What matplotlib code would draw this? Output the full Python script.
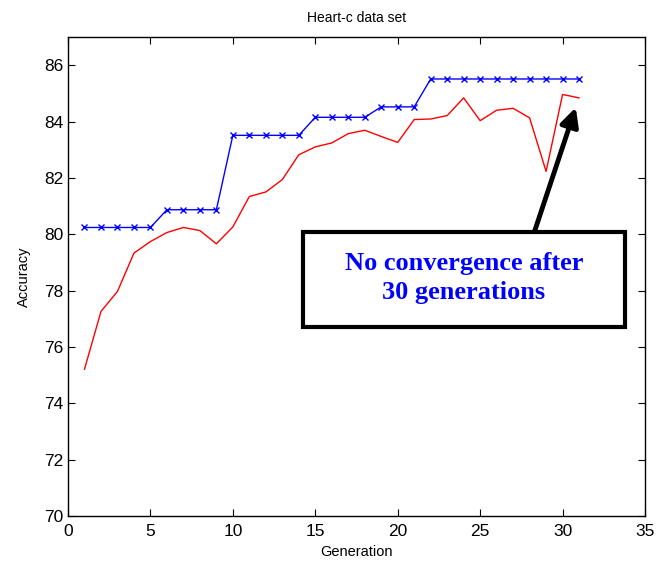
import numpy as np
import matplotlib.pyplot as plt

plt.rcParams['font.family'] = ['Liberation Sans', 'DejaVu Sans']

generations = np.arange(1, 32)

# best-so-far accuracy (blue, stepped)
best_acc = [80.24, 80.24, 80.24, 80.24, 80.24,
            80.87, 80.87, 80.87, 80.87,
            83.51, 83.51, 83.51, 83.51, 83.51,
            84.15, 84.15, 84.15, 84.15,
            84.52, 84.52, 84.52,
            85.51, 85.51, 85.51, 85.51, 85.51, 85.51, 85.51, 85.51, 85.51, 85.51]

# mean accuracy (red)
mean_acc = [75.21, 77.26, 77.97, 79.33, 79.74, 80.06, 80.24, 80.13, 79.66, 80.26,
            81.34, 81.50, 81.94, 82.82, 83.10, 83.24, 83.57, 83.69, 83.47, 83.26,
            84.07, 84.09, 84.21, 84.84, 84.03, 84.40, 84.47, 84.13, 82.23, 84.96,
            84.84]

fig = plt.figure(figsize=(6.7, 5.68), dpi=100)
ax = fig.add_axes([68 / 670, 1 - 516 / 568, (645 - 68) / 670, (516 - 37) / 568])

ax.plot(generations, mean_acc, color='#ff0000', linewidth=1.0)
ax.plot(generations, best_acc, color='#0000ff', linewidth=1.0,
        marker='x', markersize=5, markeredgewidth=1.0)

ax.set_xlim(0, 35)
ax.set_ylim(70, 87)
ax.set_xticks(np.arange(0, 36, 5))
ax.set_yticks(np.arange(70, 87, 2))
ax.tick_params(direction='in', labelsize=12.5, length=5, top=True, right=True,
               labeltop=False, labelright=False)
ax.tick_params(axis='x', pad=6)
for s in ax.spines.values():
    s.set_linewidth(1.0)

ax.set_title('Heart-c data set', fontsize=10, pad=11)
ax.set_xlabel('Generation', fontsize=10.5, labelpad=4)
ax.set_ylabel('Accuracy', fontsize=10.5, labelpad=9)

# annotation box with arrow
ax.annotate('', xy=(30.8, 84.5), xytext=(28.3, 80.1),
            arrowprops=dict(arrowstyle='-|>,head_length=1.1,head_width=0.55',
                            color='black', linewidth=3.5, shrinkA=0, shrinkB=0))
fig.patches.append(plt.Rectangle((303 / 670, 1 - 327 / 568), (625 - 303) / 670, (327 - 232) / 568,
                                 transform=fig.transFigure, facecolor='white',
                                 edgecolor='black', linewidth=3.0, zorder=5))
fig.text(464 / 670, 1 - 278 / 568, 'No convergence after\n30 generations',
         ha='center', va='center', color='#0000ff', fontsize=19, fontweight='bold',
         family=['Liberation Serif', 'DejaVu Serif'], linespacing=1.3, zorder=6)

fig.savefig('out.png', dpi=100)
